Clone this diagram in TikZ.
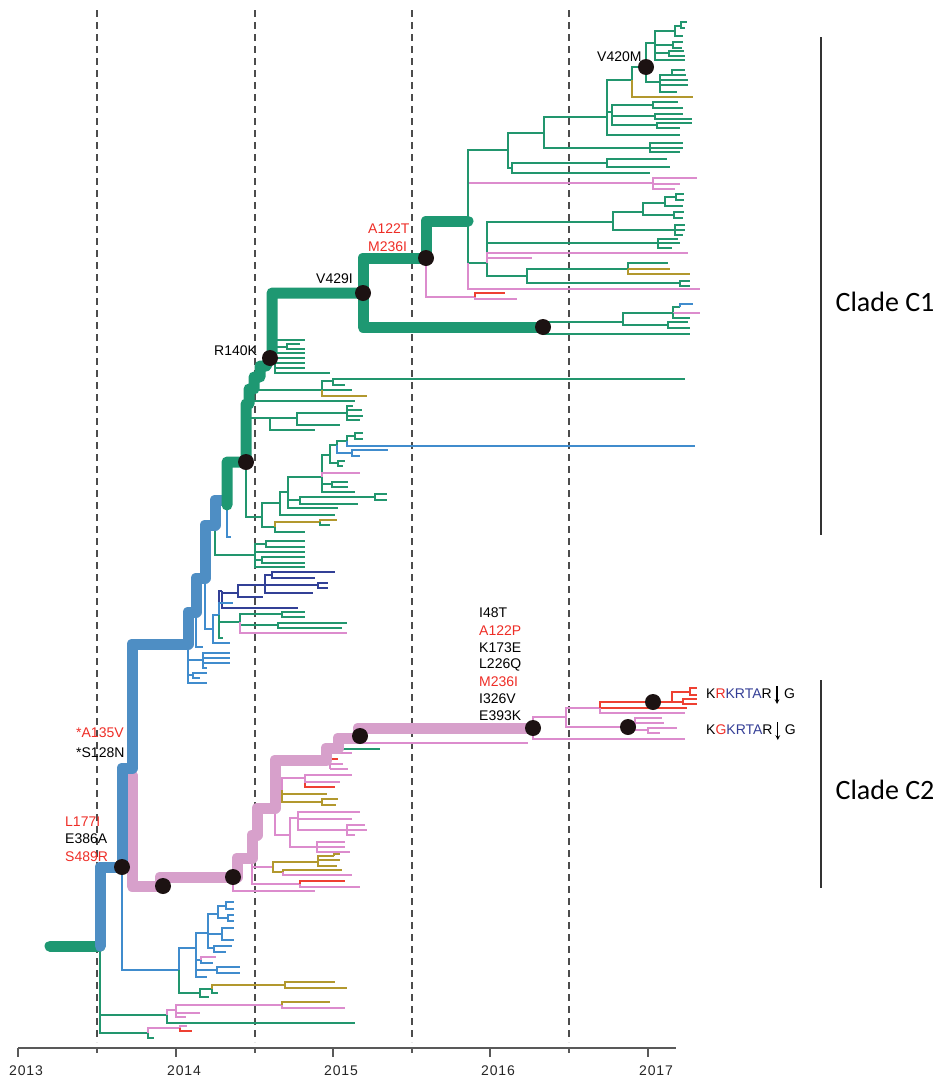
\documentclass[tikz,border=0pt]{standalone}
\usepackage{fontspec}
\setmainfont{Liberation Sans}
\newfontfamily\cladefont{Carlito}
\usetikzlibrary{arrows}
\usepackage{xcolor}

\definecolor{tgreen}{RGB}{30,152,114}
\definecolor{tblue}{RGB}{78,142,196}
\definecolor{tpink}{RGB}{215,160,203}
\definecolor{lgreen}{RGB}{34,150,110}
\definecolor{lblue}{RGB}{64,140,205}
\definecolor{lpink}{RGB}{220,140,205}
\definecolor{lolive}{RGB}{178,152,46}
\definecolor{lred}{RGB}{238,64,50}
\definecolor{lnavy}{RGB}{50,64,150}
\definecolor{mutred}{RGB}{238,45,38}
\definecolor{motifblue}{RGB}{52,62,150}
\definecolor{dotc}{RGB}{28,18,18}

\tikzset{
  br/.style={line width=1.6pt},
  gr/.style={br,lgreen},
  bl/.style={br,lblue},
  pk/.style={br,lpink},
  ol/.style={br,lolive},
  rd/.style={br,lred},
  nv/.style={br,lnavy},
  trunk/.style={line width=11pt,line join=round,line cap=round},
  yearline/.style={black!70,line width=1.1pt,dash pattern=on 7pt off 5pt},
  axisline/.style={black!65,line width=1.2pt},
  yearlab/.style={font=\fontsize{14}{16}\selectfont\addfontfeature{LetterSpace=6},text=black!85},
  mut/.style={font=\fontsize{14}{16}\selectfont,inner sep=0pt,anchor=west},
  redmut/.style={mut,text=mutred},
  cladebar/.style={black!80,line width=1.2pt},
  cladelab/.style={font=\cladefont\fontsize{28}{32}\selectfont},
}

\begin{document}
\begin{tikzpicture}[x=1pt,y=-1pt]
        \useasboundingbox (0,0) rectangle (946,1079);

        \foreach \x in {97,255,412,569}
          \draw[yearline] (\x,10) -- (\x,1042);
        \draw[axisline] (18,1048) -- (676,1048);
        \foreach \x/\yr in {18/2013,176/2014,333/2015,490/2016,648/2017}{
          \draw[axisline] (\x,1048) -- (\x,1057);
          \node[yearlab] (y\yr) at (\x+8,1071) {\yr};
        }
        \foreach \x in {97,255,412,569}
          \draw[axisline] (\x,1048) -- (\x,1053);

        \coordinate (root)    at (100,946);
        \coordinate (nL177I)  at (122,867);
        \coordinate (nC2a)    at (163,886);
        \coordinate (nC2b)    at (233,877);
        \coordinate (nC2c)    at (360,736);
        \coordinate (nI48T)   at (533,728);
        \coordinate (nRK)     at (653,702);
        \coordinate (nGK)     at (628,727);
        \coordinate (nC1a)    at (246,462);
        \coordinate (nR140K)  at (270,358);
        \coordinate (nV429I)  at (363,293);
        \coordinate (nA122T)  at (426,258);
        \coordinate (nC1b)    at (543,327);
        \coordinate (nV420M)  at (646,67);

        % root and bottom lineages
        \draw[gr] (root) |- (148,1033);
        \draw[gr] (root) |- (167,1015);
        \draw[gr] (167,1015) |- (355,1023);
        \draw[pk] (167,1015) |- (176,1010);
        \draw[pk] (176,1010) |- (282,1005);
        \draw[pk] (176,1010) |- (200,1013);
        \draw[pk] (176,1010) |- (186,1017);
        \draw[ol] (282,1005) |- (330,1002);
        \draw[pk] (282,1005) |- (345,1008);
        \draw[pk] (148,1033) |- (180,1028);
        \draw[gr] (148,1033) |- (154,1038);
        \draw[pk] (180,1028) |- (187,1026);
        \draw[rd] (180,1028) |- (192,1031);

        \draw[bl] (nL177I) |- (179,970);
        \draw[bl] (179,970) |- (196,948);
        \draw[bl] (196,948) |- (208,933);
        \draw[bl] (208,933) |- (218,914);
        \draw[bl] (218,914) |- (226,906);
        \draw[bl] (226,906) |- (234,902);
        \draw[bl] (226,906) |- (234,909);
        \draw[bl] (218,914) |- (228,918);
        \draw[bl] (228,918) |- (234,915);
        \draw[bl] (228,918) |- (234,921);
        \draw[bl] (208,933) |- (222,934);
        \draw[bl] (222,934) |- (234,928);
        \draw[bl] (222,934) |- (234,940);
        \draw[bl] (208,933) |- (214,948);
        \draw[bl] (214,948) |- (232,946);
        \draw[bl] (214,948) |- (226,952);
        \draw[bl] (196,948) |- (201,960);
        \draw[pk] (201,960) |- (216,957);
        \draw[bl] (201,960) |- (213,963);
        \draw[bl] (196,948) |- (217,970);
        \draw[bl] (217,970) |- (240,967);
        \draw[bl] (217,970) |- (240,973);
        \draw[bl] (196,948) |- (207,977);
        \draw[gr] (179,970) |- (200,993);
        \draw[gr] (200,993) |- (212,989);
        \draw[gr] (200,993) |- (209,997);
        \draw[ol] (212,989) |- (285,985);
        \draw[gr] (212,989) |- (218,993);
        \draw[ol] (285,985) |- (335,982);
        \draw[ol] (285,985) |- (347,988);

        % side lineages of the blue backbone
        \draw[bl] (188,644) |- (203,660);
        \draw[bl] (203,660) |- (230,653);
        \draw[bl] (203,660) |- (230,658);
        \draw[bl] (203,660) |- (230,663);
        \draw[bl] (203,660) |- (207,668);
        \draw[bl] (188,644) |- (193,675);
        \draw[bl] (193,675) |- (207,673);
        \draw[bl] (193,675) |- (200,678);
        \draw[bl] (188,644) |- (207,683);
        \draw[bl] (196,614) |- (203,647);

        \draw[bl] (205,580) |- (213,629);
        \draw[bl] (213,629) |- (230,643);
        \draw[bl] (213,629) |- (219,615);
        \draw[nv] (219,615) |- (222,591);
        \draw[nv] (222,591) |- (238,593);
        \draw[nv] (238,593) |- (265,585);
        \draw[nv] (265,585) |- (272,575);
        \draw[nv] (272,575) |- (335,572);
        \draw[nv] (272,575) |- (315,578);
        \draw[nv] (265,585) -- (318,585);
        \draw[nv] (318,585) |- (328,583);
        \draw[nv] (318,585) |- (328,588);
        \draw[nv] (265,585) |- (313,593);
        \draw[nv] (238,593) |- (263,597);
        \draw[nv] (222,591) |- (298,608);
        \draw[bl] (219,615) |- (233,603);
        \draw[gr] (219,615) |- (240,622);
        \draw[gr] (240,622) |- (282,614);
        \draw[gr] (282,614) |- (305,612);
        \draw[gr] (282,614) |- (305,617);
        \draw[gr] (240,622) |- (278,625);
        \draw[gr] (278,625) |- (347,623);
        \draw[gr] (278,625) |- (342,628);
        \draw[pk] (240,622) |- (347,633);
        \draw[gr] (219,615) |- (223,638);

        \draw[gr] (215,527) |- (255,555);
        \draw[gr] (255,555) |- (266,544);
        \draw[gr] (266,544) |- (305,541);
        \draw[gr] (266,544) |- (305,547);
        \draw[gr] (255,555) |- (305,552);
        \draw[gr] (255,555) |- (262,560);
        \draw[gr] (262,560) |- (305,557);
        \draw[gr] (262,560) |- (305,563);
        \draw[gr] (255,555) |- (305,567);
        \draw[bl] (227,500) |- (231,537);

        % clade C1, lower part
        \draw[gr] (nC1a) |- (262,517);
        \draw[gr] (262,517) |- (280,503);
        \draw[gr] (280,503) |- (288,492);
        \draw[gr] (288,492) |- (322,477);
        \draw[gr] (322,477) |- (330,455);
        \draw[gr] (330,455) |- (337,445);
        \draw[gr] (337,445) |- (347,441);
        \draw[gr] (347,441) |- (355,436);
        \draw[gr] (355,436) |- (363,433);
        \draw[gr] (355,436) |- (363,439);
        \draw[bl] (347,441) |- (695,446);
        \draw[bl] (337,445) |- (352,453);
        \draw[bl] (352,453) |- (388,450);
        \draw[bl] (352,453) |- (360,456);
        \draw[gr] (330,455) |- (338,463);
        \draw[gr] (338,463) |- (345,461);
        \draw[gr] (338,463) |- (343,466);
        \draw[pk] (322,477) |- (360,473);
        \draw[gr] (322,477) |- (332,484);
        \draw[gr] (332,484) |- (348,482);
        \draw[gr] (332,484) |- (348,487);
        \draw[gr] (322,477) |- (355,492);
        \draw[gr] (288,492) |- (300,500);
        \draw[gr] (300,500) |- (375,497);
        \draw[gr] (375,497) |- (387,494);
        \draw[gr] (375,497) |- (387,500);
        \draw[gr] (300,500) |- (358,504);
        \draw[gr] (288,492) |- (338,508);
        \draw[gr] (280,503) |- (335,515);
        \draw[gr] (262,517) |- (275,527);
        \draw[ol] (275,527) |- (320,522);
        \draw[ol] (320,522) |- (337,520);
        \draw[gr] (320,522) |- (330,525);
        \draw[gr] (275,527) |- (305,532);

        \draw[gr] (255,390) -- (322,390);
        \draw[gr] (322,390) |- (333,381);
        \draw[gr] (333,381) |- (685,379);
        \draw[gr] (333,381) |- (345,385);
        \draw[gr] (322,390) -- (352,390);
        \draw[ol] (322,390) |- (367,396);
        \draw[gr] (253,401) -- (355,401);
        \draw[gr] (250,418) -- (297,418);
        \draw[gr] (297,418) |- (347,413);
        \draw[gr] (347,413) |- (353,406);
        \draw[gr] (347,413) |- (362,410);
        \draw[gr] (347,413) |- (363,416);
        \draw[gr] (347,413) |- (360,420);
        \draw[gr] (297,418) |- (340,425);
        \draw[gr] (270,418) |- (315,430);

        \draw[gr] (nR140K) -- (275,358);
        \draw[gr] (275,358) |- (305,340);
        \draw[gr] (275,358) |- (287,347);
        \draw[gr] (287,347) |- (300,344);
        \draw[gr] (287,347) |- (305,349);
        \draw[gr] (275,358) |- (305,353);
        \draw[gr] (275,358) -- (305,358);
        \draw[gr] (275,358) |- (305,363);
        \draw[gr] (275,358) |- (305,368);
        \draw[gr] (275,358) |- (330,373);

        % clade C1, upper part
        \draw[pk] (nA122T) |- (475,297);
        \draw[rd] (475,297) |- (505,293);
        \draw[pk] (475,297) |- (517,299);

        \draw[gr] (nC1b) |- (623,322);
        \draw[gr] (nC1b) |- (690,334);
        \draw[gr] (623,322) |- (673,313);
        \draw[gr] (673,313) |- (680,307);
        \draw[bl] (680,307) |- (693,304);
        \draw[pk] (673,313) |- (700,313);
        \draw[gr] (673,313) |- (690,318);
        \draw[gr] (623,322) |- (668,325);
        \draw[gr] (668,325) |- (688,322);
        \draw[gr] (668,325) |- (690,328);

        \draw[gr] (468,221) |- (508,150);
        \draw[gr] (508,150) |- (544,133);
        \draw[gr] (544,133) |- (607,117);
        \draw[gr] (607,117) |- (632,80);
        \draw[gr] (632,80) |- (nV420M);
        \draw[ol] (632,80) |- (693,97);
        \draw[gr] (nV420M) |- (655,43);
        \draw[gr] (655,43) |- (675,31);
        \draw[gr] (675,31) |- (681,26);
        \draw[gr] (681,26) |- (687,22);
        \draw[gr] (681,26) |- (685,28);
        \draw[gr] (675,31) |- (683,36);
        \draw[gr] (655,43) |- (673,45);
        \draw[gr] (673,45) |- (683,42);
        \draw[gr] (673,45) |- (682,48);
        \draw[gr] (655,43) |- (669,53);
        \draw[gr] (669,53) |- (684,51);
        \draw[gr] (669,53) |- (685,56);
        \draw[gr] (655,43) |- (685,60);
        \draw[gr] (nV420M) |- (660,82);
        \draw[gr] (660,82) |- (672,75);
        \draw[gr] (672,75) |- (685,70);
        \draw[gr] (672,75) |- (686,75);
        \draw[gr] (660,82) |- (688,80);
        \draw[gr] (660,82) |- (688,85);
        \draw[gr] (660,82) |- (677,92);
        \draw[gr] (607,117) |- (612,112);
        \draw[gr] (612,112) |- (653,105);
        \draw[gr] (653,105) |- (678,102);
        \draw[gr] (653,105) |- (683,108);
        \draw[gr] (612,112) |- (655,116);
        \draw[gr] (655,116) |- (683,114);
        \draw[gr] (655,116) |- (692,119);
        \draw[gr] (612,112) |- (657,125);
        \draw[gr] (657,125) |- (692,123);
        \draw[gr] (657,125) |- (680,128);
        \draw[gr] (607,117) |- (680,135);
        \draw[gr] (544,133) |- (650,148);
        \draw[gr] (650,148) |- (683,143);
        \draw[gr] (650,148) |- (683,148);
        \draw[gr] (650,148) |- (680,152);
        \draw[gr] (508,150) |- (512,168);
        \draw[gr] (512,168) |- (607,163);
        \draw[gr] (607,163) |- (667,159);
        \draw[gr] (607,163) |- (670,167);
        \draw[gr] (512,168) |- (650,173);
        \draw[pk] (469,183) -- (653,183);
        \draw[pk] (653,183) |- (697,178);
        \draw[pk] (653,183) |- (680,184);
        \draw[pk] (653,183) |- (675,189);

        \draw[gr] (468,221) |- (487,263);
        \draw[gr] (487,263) |- (613,222);
        \draw[gr] (613,222) |- (643,212);
        \draw[gr] (643,212) |- (665,203);
        \draw[gr] (665,203) |- (676,197);
        \draw[gr] (676,197) |- (684,194);
        \draw[gr] (676,197) |- (684,200);
        \draw[gr] (665,203) |- (683,206);
        \draw[gr] (643,212) |- (674,215);
        \draw[gr] (674,215) |- (684,212);
        \draw[gr] (674,215) |- (683,218);
        \draw[gr] (613,222) |- (675,230);
        \draw[gr] (675,230) |- (685,225);
        \draw[gr] (675,230) |- (685,230);
        \draw[gr] (675,230) |- (683,235);
        \draw[gr] (487,263) |- (658,243);
        \draw[gr] (658,243) |- (678,239);
        \draw[gr] (658,243) |- (680,243);
        \draw[gr] (658,243) |- (672,248);
        \draw[pk] (487,263) |- (688,253);
        \draw[pk] (487,263) |- (532,258);
        \draw[gr] (487,263) |- (527,276);
        \draw[gr] (527,276) |- (628,269);
        \draw[gr] (628,269) |- (668,263);
        \draw[ol] (628,269) -- (670,269);
        \draw[ol] (628,269) |- (690,274);
        \draw[gr] (527,276) |- (680,283);
        \draw[gr] (680,283) |- (690,281);
        \draw[gr] (680,283) |- (690,286);
        \draw[pk] (468,263) |- (700,289);

        % clade C2
        \draw[pk] (nC2b) |- (315,891);
        \draw[pk] (252,858) |- (300,884);
        \draw[rd] (300,884) |- (345,881);
        \draw[pk] (300,884) |- (360,887);
        \draw[pk] (252,858) |- (273,867);
        \draw[ol] (273,867) |- (318,862);
        \draw[ol] (318,862) |- (334,856);
        \draw[ol] (334,856) |- (340,854);
        \draw[ol] (318,862) |- (340,860);
        \draw[ol] (318,862) |- (337,866);
        \draw[ol] (273,867) |- (283,872);
        \draw[ol] (283,872) |- (342,870);
        \draw[pk] (283,872) |- (352,875);
        \draw[pk] (275,808) |- (290,835);
        \draw[pk] (290,835) |- (298,818);
        \draw[pk] (298,818) |- (360,812);
        \draw[pk] (298,818) |- (352,819);
        \draw[pk] (298,818) |- (347,830);
        \draw[pk] (347,830) |- (365,825);
        \draw[pk] (347,830) |- (367,830);
        \draw[pk] (347,830) |- (355,835);
        \draw[pk] (290,835) |- (317,847);
        \draw[pk] (317,847) |- (345,842);
        \draw[pk] (317,847) |- (345,847);
        \draw[pk] (317,847) |- (350,852);
        \draw[pk] (275,790) -- (282,790);
        \draw[pk] (282,790) |- (305,778);
        \draw[pk] (305,778) |- (352,775);
        \draw[rd] (305,778) |- (335,787);
        \draw[pk] (305,778) |- (340,782);
        \draw[ol] (282,790) |- (327,794);
        \draw[ol] (282,790) |- (322,802);
        \draw[ol] (322,802) |- (338,799);
        \draw[ol] (322,802) |- (336,805);
        \draw[gr] (340,749) -- (380,749);
        \draw[pk] (330,753) -- (330,769);
        \draw[pk] (330,753) -- (352,753);
        \draw[rd] (330,759) -- (338,759);
        \draw[pk] (330,764) -- (343,764);
        \draw[pk] (330,769) -- (348,769);
        \draw[pk] (nC2c) |- (528,743);

        \draw[pk] (nI48T) |- (685,739);
        \draw[pk] (nI48T) |- (566,717);
        \draw[pk] (566,717) |- (600,708);
        \draw[rd] (600,708) |- (nRK);
        \draw[rd] (600,708) -- (687,708);
        \draw[pk] (600,708) |- (685,713);
        \draw[rd] (nRK) -| (672,692) -- (690,692);
        \draw[rd] (690,692) |- (697,688);
        \draw[rd] (690,692) |- (697,695);
        \draw[rd] (672,702) -- (683,702);
        \draw[rd] (683,702) |- (697,699);
        \draw[rd] (683,702) |- (697,704);
        \draw[pk] (566,717) |- (nGK);
        \draw[pk] (nGK) -- (635,727);
        \draw[pk] (635,727) |- (662,718);
        \draw[pk] (635,727) |- (664,723);
        \draw[pk] (635,727) |- (648,730);
        \draw[pk] (648,730) |- (677,728);
        \draw[pk] (648,730) |- (660,733);

        % backbone
        \draw[trunk,tgreen] (50,946) -- (root);
        \draw[trunk,tpink] (132,775) -- (132,886) -- (160,886) -- (160,877) -- (nC2b)
          -- (237,877) -- (237,858) -- (252,858) -- (252,835) -- (257,835) -- (257,808)
          -- (275,808) -- (275,760) -- (326,760) -- (326,748) -- (338,748) -- (338,738)
          -- (358,738) -- (358,728) -- (nI48T);
        \draw[trunk,tblue] (root) |- (nL177I) -- (122,768) -- (132,768) -- (132,644)
          -- (188,644) -- (188,612) -- (196,612) -- (196,578) -- (205,578) -- (205,525)
          -- (215,525) -- (215,500) -- (222,500);
        \draw[trunk,tgreen] (227,505) -- (227,462) -- (nC1a) -- (246,404) -- (249,404)
          -- (249,389) -- (254,389) -- (254,377) -- (260,377) -- (260,366) -- (266,366)
          -- (nR140K) -- (272,352) -- (272,293) -- (nV429I);
        \draw[trunk,tgreen] (nV429I) |- (nA122T) -- (426,221) -- (468,221);
        \draw[trunk,tgreen] (nV429I) |- (nC1b);

        \foreach \n in {nL177I,nC2a,nC2b,nC2c,nI48T,nRK,nGK,nC1a,nR140K,nV429I,nA122T,nC1b,nV420M}
          \fill[dotc] (\n) circle (8);

        % substitutions
        \node[redmut] (mA135V) at (76,733) {*A135V};
        \node[mut]    (mS128N) at (76,753) {*S128N};
        \node[redmut] (mL177I) at (65,822) {L177I};
        \node[mut]    (mE386A) at (65,839) {E386A};
        \node[redmut] (mS489R) at (65,857) {S489R};
        \node[mut]    (mR140K) at (214,351) {R140K};
        \node[mut]    (mV429I) at (316,279) {V429I};
        \node[redmut] (mA122T) at (368,229) {A122T};
        \node[redmut] (mM236Ia) at (368,247) {M236I};
        \node[mut]    (mV420M) at (597,57) {V420M};
        \node[mut]    (mI48T)  at (479,613) {I48T};
        \node[redmut] (mA122P) at (479,630.5) {A122P};
        \node[mut]    (mK173E) at (479,647.5) {K173E};
        \node[mut]    (mL226Q) at (479,665) {L226Q};
        \node[redmut] (mM236Ib) at (479,682) {M236I};
        \node[mut]    (mI326V) at (479,699) {I326V};
        \node[mut]    (mE393K) at (479,716) {E393K};

        % cleavage motifs
        \node[mut] (motifR) at (706,694) {K\textcolor{mutred}{R}\textcolor{motifblue}{KRTA}R};
        \draw[-stealth,line width=1.1pt] ([xshift=5pt,yshift=8pt]motifR.east) -- ([xshift=5pt,yshift=-10pt]motifR.east);
        \node[mut] (cutR) at ([xshift=12pt]motifR.east) {G};
        \node[mut] (motifG) at (706,730) {K\textcolor{mutred}{G}\textcolor{motifblue}{KRTA}R};
        \draw[-stealth,line width=1.1pt] ([xshift=5pt,yshift=8pt]motifG.east) -- ([xshift=5pt,yshift=-10pt]motifG.east);
        \node[mut] (cutG) at ([xshift=12pt]motifG.east) {G};

        % clades
        \coordinate (c1top) at (821,37);
        \coordinate (c1bot) at (821,535);
        \coordinate (c2top) at (821,680);
        \coordinate (c2bot) at (821,888);
        \draw[cladebar] (c1top) -- (c1bot);
        \draw[cladebar] (c2top) -- (c2bot);
        \node[cladelab] (cladeC1) at (885,302) {Clade C1};
        \node[cladelab] (cladeC2) at (885,790) {Clade C2};
\end{tikzpicture}
\end{document}
